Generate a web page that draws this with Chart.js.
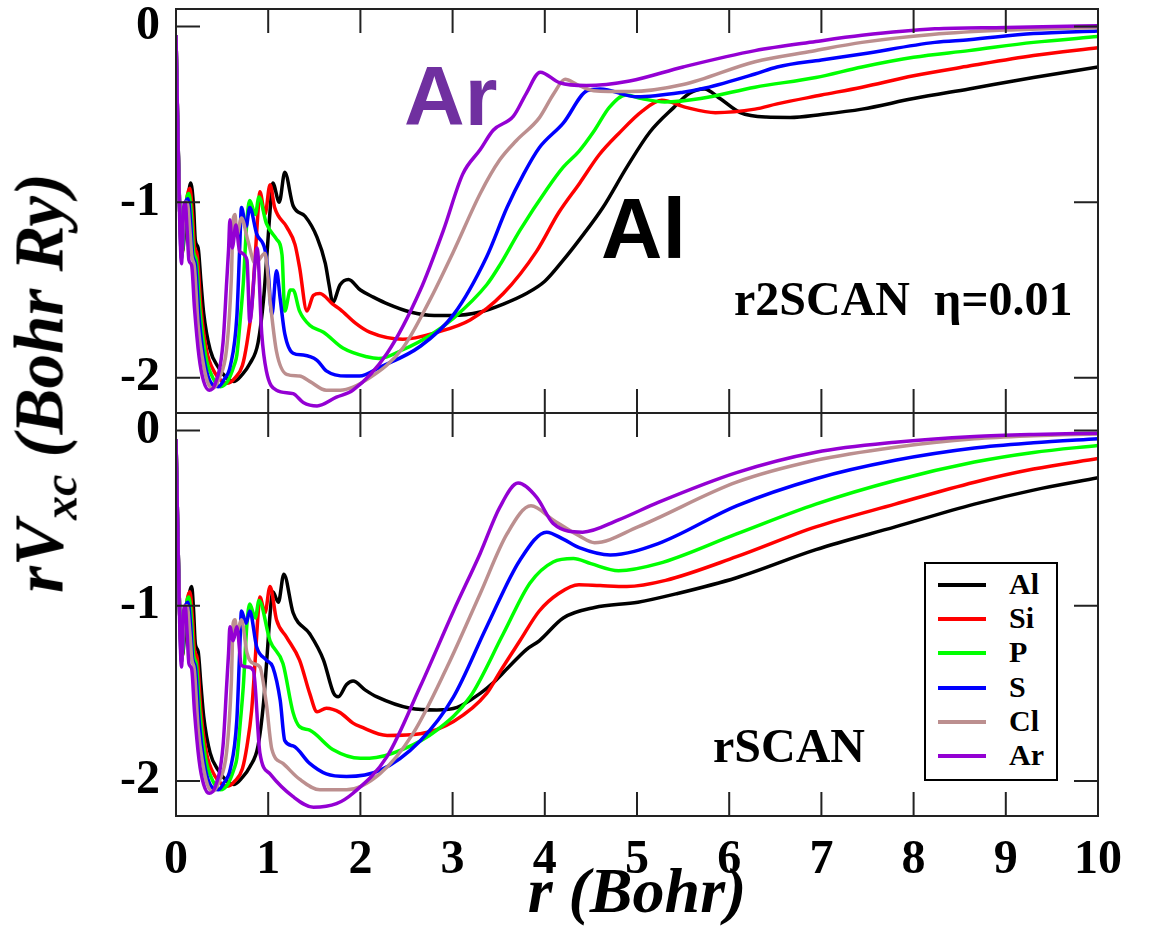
<!DOCTYPE html>
<html lang="en">
<head>
<meta charset="UTF-8">
<title>rVxc - r2SCAN / rSCAN</title>
<script src="https://cdn.jsdelivr.net/npm/chart.js"></script>
<style>
  body { margin: 0; background: #fff; }
  #wrap { position: relative; width: 1151px; height: 934px; overflow: hidden; }
  canvas { position: absolute; left: 0; }
  .txt { position: absolute; white-space: nowrap; line-height: 1; }
  .serif { font-family: "Liberation Serif", "DejaVu Serif", serif; font-weight: bold; }
  .sans { font-family: "Liberation Sans", Arial, sans-serif; font-weight: bold; }
  #ytitle { left: 45px; top: 383px; font-size: 69px; font-style: italic;
            transform: translate(-50%, -50%) rotate(-90deg); }
  #ytitle sub { font-size: 48px; vertical-align: -14px; }
  #legenda { position: absolute; left: 924px; top: 562px; width: 130px; height: 215px;
             border: 2px solid #000; background: #fff; }
  .linha { position: absolute; left: 12px; width: 48px; height: 4px; }
  .nome { position: absolute; left: 83px; font-size: 30px; }
</style>
</head>
<body>
<div id="wrap">
  <canvas id="topo" width="1151" height="490" style="top:-40px"></canvas>
  <canvas id="baixo" width="1151" height="561" style="top:373px"></canvas>
  <div id="ytitle" class="txt serif">rV<sub>xc</sub> (Bohr Ry)</div>
  <div class="txt sans" style="left:404px; top:54px; font-size:84px; color:#7030a0">Ar</div>
  <div class="txt sans" style="left:601px; top:186px; font-size:85px; color:#000">Al</div>
  <div class="txt serif" style="left:734px; top:275px; font-size:48px">r2SCAN&nbsp; η=0.01</div>
  <div class="txt serif" style="left:713px; top:722px; font-size:48px">rSCAN</div>
  <div id="legenda"></div>
</div>
<script>
// elementos, cores
const nomes = ['Al', 'Si', 'P', 'S', 'Cl', 'Ar'];
const cores = ['#000000', '#ff0000', '#00ff00', '#0000ff', '#bc8f8f', '#9400d3'];
const marcasX = [0, 1, 2, 3, 4, 5, 6, 7, 8, 9, 10];
const marcasY = [0, -1, -2];

// ---- r2SCAN eta=0.01 (painel de cima): [r, rVxc] ----
const r2Al = [[0,-0.05],[0.02,-0.6],[0.04,-1.05],[0.07,-1.28],[0.1,-1.12],[0.13,-0.98],[0.16,-0.89],[0.19,-1.02],[0.21,-1.22],[0.24,-1.26],[0.27,-1.45],[0.3,-1.63],[0.37,-1.84],[0.46,-1.94],[0.55,-2.0],[0.63,-2.02],[0.72,-1.98],[0.8,-1.92],[0.89,-1.8],[0.95,-1.55],[0.99,-1.27],[1.02,-1.05],[1.05,-0.89],[1.12,-1.0],[1.18,-0.83],[1.27,-1.02],[1.4,-1.08],[1.53,-1.2],[1.62,-1.35],[1.66,-1.47],[1.7,-1.57],[1.78,-1.47],[1.87,-1.44],[2.0,-1.5],[2.14,-1.54],[2.3,-1.58],[2.54,-1.625],[2.8,-1.645],[3.0,-1.645],[3.3,-1.625],[3.55,-1.58],[3.8,-1.52],[4.0,-1.45],[4.2,-1.33],[4.38,-1.21],[4.63,-1.03],[4.89,-0.8],[5.14,-0.6],[5.4,-0.46],[5.57,-0.38],[5.73,-0.355],[5.9,-0.41],[6.12,-0.49],[6.4,-0.515],[6.66,-0.517],[7.0,-0.5],[7.44,-0.47],[8.0,-0.41],[8.6,-0.355],[9.3,-0.29],[10,-0.23]];
const r2Si = [[0,-0.05],[0.02,-0.6],[0.04,-1.05],[0.065,-1.3],[0.09,-1.12],[0.12,-0.97],[0.15,-0.92],[0.18,-1.08],[0.2,-1.25],[0.23,-1.3],[0.27,-1.6],[0.33,-1.84],[0.42,-1.97],[0.5,-2.02],[0.56,-2.03],[0.64,-2.0],[0.72,-1.93],[0.77,-1.8],[0.82,-1.6],[0.86,-1.3],[0.89,-1.05],[0.91,-0.94],[0.965,-1.07],[1.02,-0.9],[1.07,-1.03],[1.2,-1.14],[1.29,-1.24],[1.34,-1.37],[1.42,-1.62],[1.49,-1.53],[1.56,-1.52],[1.7,-1.58],[1.78,-1.61],[1.95,-1.69],[2.1,-1.74],[2.46,-1.78],[2.83,-1.74],[3.19,-1.67],[3.55,-1.52],[3.91,-1.28],[4.15,-1.06],[4.38,-0.89],[4.59,-0.73],[4.8,-0.61],[5.06,-0.48],[5.27,-0.42],[5.53,-0.46],[5.85,-0.49],[6.28,-0.47],[6.52,-0.44],[7.0,-0.39],[7.44,-0.345],[8.0,-0.28],[8.6,-0.225],[9.3,-0.165],[10,-0.12]];
const r2P = [[0,-0.05],[0.02,-0.6],[0.04,-1.05],[0.065,-1.3],[0.09,-1.12],[0.12,-0.97],[0.14,-0.95],[0.17,-1.1],[0.19,-1.28],[0.22,-1.33],[0.26,-1.62],[0.32,-1.87],[0.4,-2.0],[0.48,-2.05],[0.56,-2.02],[0.63,-1.93],[0.66,-1.87],[0.7,-1.65],[0.73,-1.46],[0.77,-1.1],[0.8,-0.99],[0.86,-1.07],[0.9,-0.97],[0.98,-1.12],[1.09,-1.21],[1.15,-1.3],[1.18,-1.62],[1.24,-1.5],[1.27,-1.5],[1.34,-1.62],[1.45,-1.7],[1.6,-1.74],[1.81,-1.83],[2.07,-1.88],[2.2,-1.89],[2.46,-1.84],[2.75,-1.76],[3.01,-1.66],[3.37,-1.47],[3.51,-1.36],[3.73,-1.16],[4.03,-0.92],[4.2,-0.8],[4.37,-0.71],[4.54,-0.59],[4.7,-0.46],[4.88,-0.39],[5.05,-0.41],[5.3,-0.43],[5.69,-0.41],[6.28,-0.345],[6.94,-0.29],[7.44,-0.23],[8.0,-0.175],[8.6,-0.137],[9.3,-0.09],[10,-0.057]];
const r2S = [[0,-0.05],[0.02,-0.6],[0.04,-1.05],[0.06,-1.32],[0.085,-1.12],[0.11,-0.99],[0.13,-0.98],[0.16,-1.12],[0.18,-1.3],[0.21,-1.35],[0.25,-1.65],[0.3,-1.88],[0.37,-2.02],[0.46,-2.05],[0.52,-2.01],[0.59,-1.93],[0.66,-1.65],[0.69,-1.27],[0.71,-1.03],[0.76,-1.14],[0.8,-1.03],[0.875,-1.18],[0.965,-1.27],[1.0,-1.4],[1.04,-1.64],[1.09,-1.39],[1.13,-1.55],[1.18,-1.75],[1.27,-1.86],[1.38,-1.87],[1.53,-1.9],[1.63,-1.96],[1.85,-1.99],[1.99,-1.99],[2.21,-1.94],[2.65,-1.82],[3.01,-1.64],[3.37,-1.31],[3.59,-1.03],[3.77,-0.84],[3.94,-0.69],[4.2,-0.55],[4.46,-0.365],[4.6,-0.355],[5.0,-0.4],[5.5,-0.374],[5.74,-0.35],[6.28,-0.27],[6.52,-0.23],[7.0,-0.19],[7.44,-0.156],[8.23,-0.09],[8.6,-0.075],[9.3,-0.04],[10,-0.025]];
const r2Cl = [[0,-0.05],[0.02,-0.6],[0.04,-1.05],[0.06,-1.32],[0.08,-1.12],[0.1,-1.0],[0.12,-1.0],[0.15,-1.15],[0.17,-1.3],[0.2,-1.37],[0.24,-1.7],[0.29,-1.9],[0.34,-2.02],[0.4,-2.06],[0.47,-2.0],[0.55,-1.83],[0.6,-1.44],[0.62,-1.1],[0.64,-1.07],[0.66,-1.19],[0.71,-1.09],[0.78,-1.22],[0.86,-1.35],[0.965,-1.29],[1.02,-1.56],[1.09,-1.85],[1.2,-1.98],[1.34,-1.99],[1.45,-2.02],[1.63,-2.07],[1.78,-2.07],[2.1,-2.0],[2.46,-1.83],[2.75,-1.56],[3.01,-1.28],[3.3,-0.95],[3.51,-0.76],[3.69,-0.65],[3.94,-0.52],[4.1,-0.38],[4.22,-0.3],[4.35,-0.33],[4.53,-0.365],[4.92,-0.37],[5.5,-0.33],[6.28,-0.2],[6.9,-0.14],[7.44,-0.09],[8.2,-0.045],[9.0,-0.02],[10,-0.005]];
const r2Ar = [[0,-0.05],[0.02,-0.6],[0.04,-1.1],[0.06,-1.35],[0.08,-1.05],[0.1,-1.0],[0.12,-1.15],[0.14,-1.33],[0.17,-1.36],[0.2,-1.6],[0.25,-1.88],[0.3,-2.02],[0.36,-2.07],[0.42,-2.04],[0.51,-1.8],[0.55,-1.45],[0.57,-1.27],[0.585,-1.1],[0.61,-1.26],[0.65,-1.13],[0.69,-1.28],[0.77,-1.33],[0.8,-1.68],[0.88,-1.26],[0.93,-1.75],[0.98,-1.96],[1.09,-2.07],[1.27,-2.09],[1.38,-2.14],[1.53,-2.16],[1.74,-2.11],[1.92,-2.07],[2.29,-1.86],[2.65,-1.5],[2.9,-1.16],[3.11,-0.84],[3.3,-0.7],[3.44,-0.59],[3.66,-0.51],[3.8,-0.38],[3.95,-0.26],[4.16,-0.32],[4.45,-0.336],[4.92,-0.31],[5.5,-0.23],[6.28,-0.137],[6.94,-0.085],[7.44,-0.05],[8.23,-0.013],[9.0,-0.005],[10,0.005]];

// ---- rSCAN (painel de baixo) ----
const rsAl = [[0,-0.05],[0.02,-0.6],[0.04,-1.05],[0.07,-1.28],[0.1,-1.12],[0.13,-0.98],[0.17,-0.89],[0.19,-1.02],[0.21,-1.22],[0.24,-1.26],[0.27,-1.45],[0.3,-1.63],[0.37,-1.84],[0.46,-1.94],[0.55,-2.0],[0.63,-2.02],[0.72,-1.98],[0.8,-1.92],[0.89,-1.8],[0.95,-1.55],[0.99,-1.27],[1.02,-1.05],[1.05,-0.92],[1.11,-0.98],[1.17,-0.82],[1.27,-1.04],[1.45,-1.16],[1.6,-1.31],[1.71,-1.5],[1.76,-1.52],[1.85,-1.45],[1.92,-1.43],[2.05,-1.48],[2.18,-1.52],[2.54,-1.585],[2.83,-1.595],[3.05,-1.58],[3.3,-1.5],[3.44,-1.44],[3.59,-1.36],[3.8,-1.25],[3.94,-1.2],[4.2,-1.07],[4.54,-1.01],[5.01,-0.98],[5.44,-0.93],[6.08,-0.84],[6.94,-0.68],[7.8,-0.55],[8.66,-0.42],[9.3,-0.34],[10,-0.27]];
const rsSi = [[0,-0.05],[0.02,-0.6],[0.04,-1.05],[0.065,-1.3],[0.09,-1.12],[0.12,-0.97],[0.15,-0.92],[0.18,-1.08],[0.2,-1.25],[0.23,-1.3],[0.27,-1.6],[0.33,-1.84],[0.42,-1.97],[0.5,-2.02],[0.56,-2.03],[0.64,-2.0],[0.72,-1.93],[0.77,-1.8],[0.82,-1.6],[0.86,-1.3],[0.89,-1.05],[0.91,-0.95],[0.965,-1.04],[1.02,-0.89],[1.09,-1.08],[1.2,-1.18],[1.34,-1.31],[1.45,-1.5],[1.53,-1.605],[1.63,-1.585],[1.78,-1.61],[1.92,-1.67],[2.0,-1.69],[2.29,-1.74],[2.65,-1.73],[3.01,-1.66],[3.37,-1.5],[3.51,-1.38],[3.73,-1.2],[3.94,-1.03],[4.15,-0.93],[4.37,-0.88],[4.6,-0.885],[4.89,-0.89],[5.31,-0.855],[6.08,-0.72],[6.94,-0.55],[7.8,-0.42],[8.66,-0.295],[9.3,-0.22],[10,-0.16]];
const rsP = [[0,-0.05],[0.02,-0.6],[0.04,-1.05],[0.065,-1.3],[0.09,-1.12],[0.12,-0.97],[0.14,-0.95],[0.17,-1.1],[0.19,-1.28],[0.22,-1.33],[0.26,-1.62],[0.32,-1.87],[0.4,-2.0],[0.48,-2.05],[0.56,-2.02],[0.63,-1.93],[0.66,-1.87],[0.7,-1.65],[0.73,-1.46],[0.77,-1.1],[0.8,-0.99],[0.86,-1.07],[0.9,-0.97],[1.02,-1.2],[1.16,-1.33],[1.27,-1.61],[1.34,-1.69],[1.45,-1.71],[1.7,-1.82],[2.0,-1.87],[2.1,-1.87],[2.46,-1.82],[2.83,-1.71],[3.19,-1.52],[3.55,-1.16],[3.84,-0.87],[4.09,-0.75],[4.31,-0.73],[4.5,-0.76],[4.8,-0.8],[5.23,-0.76],[6.08,-0.59],[6.94,-0.42],[7.8,-0.285],[8.66,-0.18],[9.3,-0.125],[10,-0.085]];
const rsS = [[0,-0.05],[0.02,-0.6],[0.04,-1.05],[0.06,-1.32],[0.085,-1.12],[0.11,-0.99],[0.13,-0.98],[0.16,-1.12],[0.18,-1.3],[0.21,-1.35],[0.25,-1.65],[0.3,-1.88],[0.37,-2.02],[0.46,-2.05],[0.52,-2.01],[0.59,-1.93],[0.66,-1.65],[0.69,-1.27],[0.71,-1.03],[0.76,-1.1],[0.8,-1.03],[0.875,-1.235],[0.98,-1.31],[1.05,-1.35],[1.13,-1.54],[1.18,-1.77],[1.27,-1.8],[1.45,-1.9],[1.63,-1.96],[1.85,-1.975],[2.21,-1.94],[2.65,-1.77],[3.01,-1.52],[3.37,-1.12],[3.73,-0.74],[4.02,-0.58],[4.2,-0.62],[4.38,-0.67],[4.71,-0.71],[5.23,-0.645],[6.08,-0.43],[6.94,-0.275],[7.8,-0.17],[8.66,-0.1],[9.3,-0.07],[10,-0.047]];
const rsCl = [[0,-0.05],[0.02,-0.6],[0.04,-1.05],[0.06,-1.32],[0.08,-1.12],[0.1,-1.0],[0.12,-1.0],[0.15,-1.15],[0.17,-1.3],[0.2,-1.37],[0.24,-1.7],[0.29,-1.9],[0.34,-2.02],[0.4,-2.06],[0.47,-2.0],[0.55,-1.83],[0.6,-1.44],[0.62,-1.1],[0.64,-1.08],[0.66,-1.15],[0.71,-1.08],[0.77,-1.27],[0.84,-1.33],[0.91,-1.35],[0.98,-1.56],[1.04,-1.82],[1.16,-1.9],[1.34,-1.99],[1.56,-2.05],[1.85,-2.05],[2.21,-1.96],[2.57,-1.73],[2.94,-1.35],[3.3,-0.93],[3.59,-0.59],[3.85,-0.43],[4.09,-0.51],[4.37,-0.6],[4.54,-0.64],[5.01,-0.55],[6.08,-0.295],[6.94,-0.17],[7.8,-0.095],[8.66,-0.047],[9.3,-0.03],[10,-0.02]];
const rsAr = [[0,-0.05],[0.02,-0.6],[0.04,-1.1],[0.06,-1.35],[0.08,-1.05],[0.1,-1.0],[0.12,-1.15],[0.14,-1.33],[0.17,-1.36],[0.2,-1.6],[0.25,-1.88],[0.3,-2.02],[0.36,-2.07],[0.42,-2.04],[0.51,-1.8],[0.55,-1.45],[0.57,-1.27],[0.585,-1.12],[0.62,-1.2],[0.66,-1.12],[0.71,-1.34],[0.78,-1.35],[0.84,-1.37],[0.91,-1.84],[1.02,-1.96],[1.27,-2.09],[1.49,-2.15],[1.74,-2.13],[1.92,-2.07],[2.29,-1.86],[2.65,-1.46],[3.01,-1.03],[3.3,-0.7],[3.51,-0.44],[3.71,-0.3],[3.91,-0.38],[4.09,-0.53],[4.41,-0.58],[4.8,-0.51],[5.23,-0.41],[6.08,-0.24],[6.94,-0.124],[7.8,-0.067],[8.66,-0.034],[9.3,-0.022],[10,-0.015]];

const serieTopo = [r2Al, r2Si, r2P, r2S, r2Cl, r2Ar];
const serieBaixo = [rsAl, rsSi, rsP, rsS, rsCl, rsAr];

const fonteSerif = '"Liberation Serif", "DejaVu Serif", serif';

// moldura e marcas para dentro (estilo xmgrace)
const moldura = {
  id: 'moldura',
  afterDatasetsDraw(chart) {
    const { ctx, chartArea: a, scales: { x, y } } = chart;
    ctx.save();
    ctx.strokeStyle = '#222';
    ctx.lineWidth = 2;
    ctx.strokeRect(a.left, a.top, a.right - a.left, a.bottom - a.top);
    ctx.beginPath();
    marcasX.forEach(t => {
      const px = x.getPixelForValue(t);
      ctx.moveTo(px, a.bottom); ctx.lineTo(px, a.bottom - 24);
      ctx.moveTo(px, a.top); ctx.lineTo(px, a.top + 24);
    });
    marcasY.forEach(t => {
      const py = y.getPixelForValue(t);
      ctx.moveTo(a.left, py); ctx.lineTo(a.left + 24, py);
      ctx.moveTo(a.right, py); ctx.lineTo(a.right - 24, py);
    });
    ctx.stroke();
    ctx.restore();
  }
};

function montaDatasets(series) {
  return series.map((pts, i) => ({
    label: nomes[i],
    data: pts.map(p => ({ x: p[0], y: p[1] })),
    borderColor: cores[i],
    borderWidth: 3.5,
    pointRadius: 0,
    fill: false,
    cubicInterpolationMode: 'monotone',
    order: nomes.length - 1 - i
  }));
}

function eixoY() {
  return {
    type: 'linear', min: -2.2, max: 0.1,
    ticks: { stepSize: 1, includeBounds: false, color: '#000', padding: 8,
             font: { family: fonteSerif, size: 48, weight: 'bold' } },
    grid: { display: false },
    border: { display: false },
    afterFit: s => { s.width = 176; }
  };
}

// painel de cima: r2SCAN (canvas comeca em -40px)
new Chart(document.getElementById('topo'), {
  type: 'line',
  data: { datasets: montaDatasets(serieTopo) },
  options: {
    responsive: false, animation: false, devicePixelRatio: 1,
    layout: { autoPadding: false, padding: { top: 49, right: 53, bottom: 37, left: 0 } },
    plugins: { legend: { display: false }, tooltip: { enabled: false } },
    scales: {
      x: { type: 'linear', min: 0, max: 10, display: false },
      y: eixoY()
    }
  },
  plugins: [moldura]
});

// painel de baixo: rSCAN
new Chart(document.getElementById('baixo'), {
  type: 'line',
  data: { datasets: montaDatasets(serieBaixo) },
  options: {
    responsive: false, animation: false, devicePixelRatio: 1,
    layout: { autoPadding: false, padding: { top: 40, right: 53, bottom: 0, left: 0 } },
    plugins: { legend: { display: false }, tooltip: { enabled: false } },
    scales: {
      x: {
        type: 'linear', min: 0, max: 10,
        ticks: { stepSize: 1, color: '#000', padding: 8,
                 font: { family: fonteSerif, size: 48, weight: 'bold' } },
        grid: { display: false },
        border: { display: false },
        title: { display: true, text: 'r (Bohr)', color: '#000', padding: 0,
                 font: { family: fonteSerif, size: 64, weight: 'bold', style: 'italic' } },
        afterFit: s => { s.height = 118; }
      },
      y: eixoY()
    }
  },
  plugins: [moldura]
});

// legenda dentro do painel de baixo
const leg = document.getElementById('legenda');
nomes.forEach((n, i) => {
  const cy = 21 + i * 34.2;
  const l = document.createElement('div');
  l.className = 'linha';
  l.style.top = (cy - 2) + 'px';
  l.style.background = cores[i];
  leg.appendChild(l);
  const t = document.createElement('div');
  t.className = 'txt serif nome';
  t.style.top = (cy - 16) + 'px';
  t.textContent = n;
  leg.appendChild(t);
});
</script>
</body>
</html>
